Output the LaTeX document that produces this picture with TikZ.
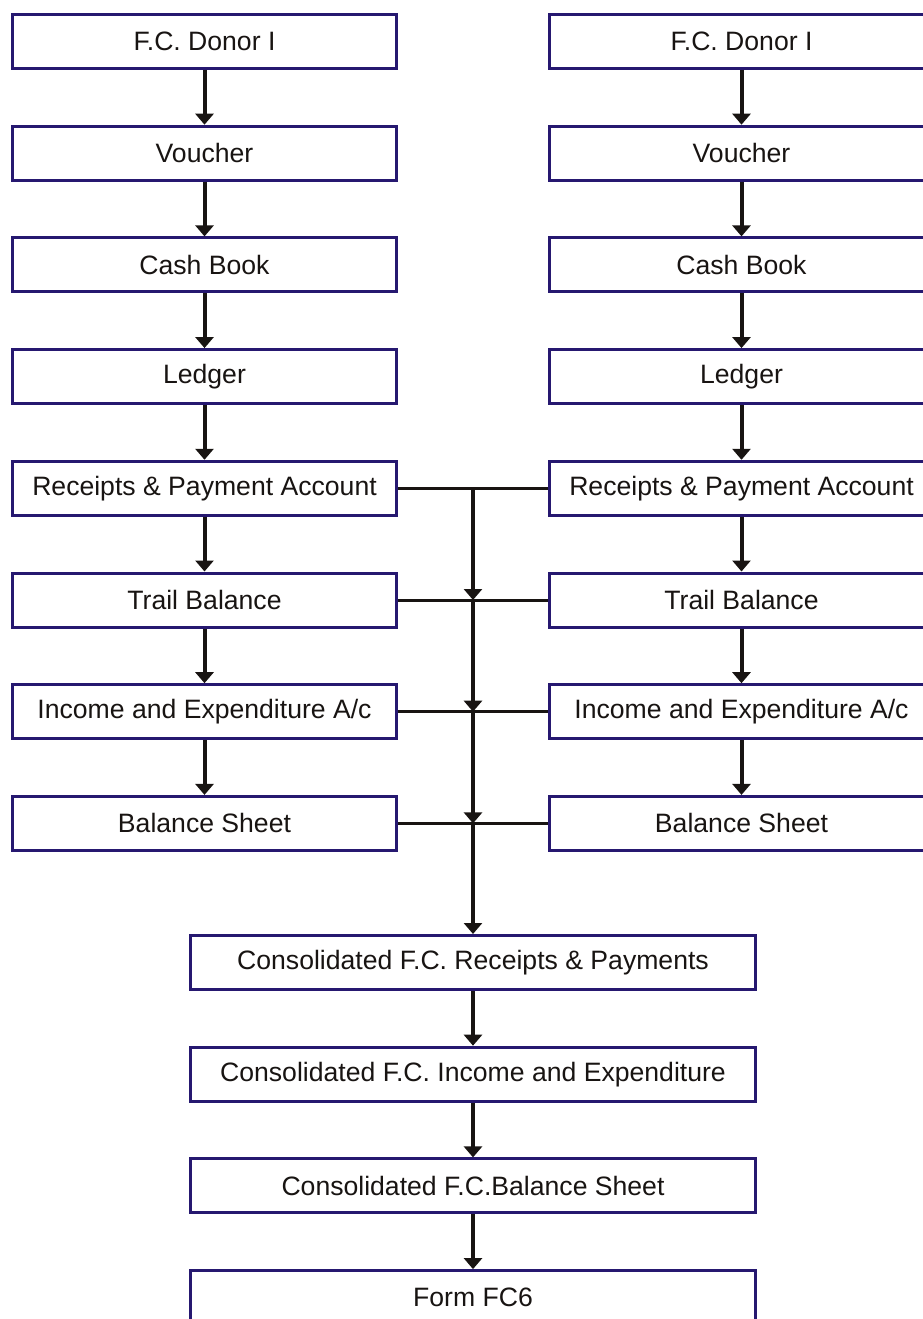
\documentclass[tikz,border=0pt]{standalone}
\usepackage{fontspec}
\setmainfont{Liberation Sans}
\usetikzlibrary{positioning, arrows.meta}
\definecolor{boxnavy}{RGB}{38,24,112}
\definecolor{inkblack}{RGB}{24,20,18}

\begin{document}
\begin{tikzpicture}[
    x=1pt, y=-1pt,
    >={Triangle[width=18pt,length=11pt]},
    node distance=54.7pt,
    flow/.style={->, line width=4pt, draw=inkblack},
    link/.style={line width=3pt, draw=inkblack},
    stepbox/.style={draw=boxnavy, line width=3pt, fill=white, minimum width=384pt,
        minimum height=54pt, inner sep=0pt, text=inkblack, font=\fontsize{26.6}{30}\selectfont},
    widebox/.style={stepbox, minimum width=565pt}
]
\useasboundingbox (0,0) rectangle (923,1319);
\clip (0,0) rectangle (923,1319);

% Left donor column
\node[stepbox] (l1) at (204.5, 41.5) {F.C. Donor I};
\node[stepbox, below=of l1] (l2) {Voucher};
\node[stepbox, below=of l2] (l3) {Cash Book};
\node[stepbox, below=of l3] (l4) {Ledger};
\node[stepbox, below=of l4] (l5) {Receipts \& Payment Account};
\node[stepbox, below=of l5] (l6) {Trail Balance};
\node[stepbox, below=of l6] (l7) {Income and Expenditure A/c};
\node[stepbox, below=of l7] (l8) {Balance Sheet};

% Right donor column (runs off the right edge)
\node[stepbox] (r1) at (741.5, 41.5) {F.C. Donor I};
\node[stepbox, below=of r1] (r2) {Voucher};
\node[stepbox, below=of r2] (r3) {Cash Book};
\node[stepbox, below=of r3] (r4) {Ledger};
\node[stepbox, below=of r4] (r5) {Receipts \& Payment Account};
\node[stepbox, below=of r5] (r6) {Trail Balance};
\node[stepbox, below=of r6] (r7) {Income and Expenditure A/c};
\node[stepbox, below=of r7] (r8) {Balance Sheet};

% Consolidated statements
\node[widebox] (c1) at (473, 962.5) {Consolidated F.C. Receipts \& Payments};
\node[widebox, below=of c1] (c2) {Consolidated F.C. Income and Expenditure};
\node[widebox, below=of c2] (c3) {Consolidated F.C.Balance Sheet};
\node[widebox, below=of c3] (c4) {Form FC6};

% Arrows down each column
\draw[flow] (l1) -- (l2);
\draw[flow] (l2) -- (l3);
\draw[flow] (l3) -- (l4);
\draw[flow] (l4) -- (l5);
\draw[flow] (l5) -- (l6);
\draw[flow] (l6) -- (l7);
\draw[flow] (l7) -- (l8);
\draw[flow] (r1) -- (r2);
\draw[flow] (r2) -- (r3);
\draw[flow] (r3) -- (r4);
\draw[flow] (r4) -- (r5);
\draw[flow] (r5) -- (r6);
\draw[flow] (r6) -- (r7);
\draw[flow] (r7) -- (r8);

% Cross links and the central trunk
\coordinate (j5) at (c1 |- l5);
\coordinate (j6) at (c1 |- l6);
\coordinate (j7) at (c1 |- l7);
\coordinate (j8) at (c1 |- l8);
\draw[link] (l5.east) -- (r5.west);
\draw[link] (l6.east) -- (r6.west);
\draw[link] (l7.east) -- (r7.west);
\draw[link] (l8.east) -- (r8.west);
\draw[flow] (j5) -- (j6);
\draw[flow] (j6) -- (j7);
\draw[flow] (j7) -- (j8);
\draw[flow] (j8) -- (c1);

% Consolidation chain
\draw[flow] (c1) -- (c2);
\draw[flow] (c2) -- (c3);
\draw[flow] (c3) -- (c4);

\end{tikzpicture}
\end{document}
